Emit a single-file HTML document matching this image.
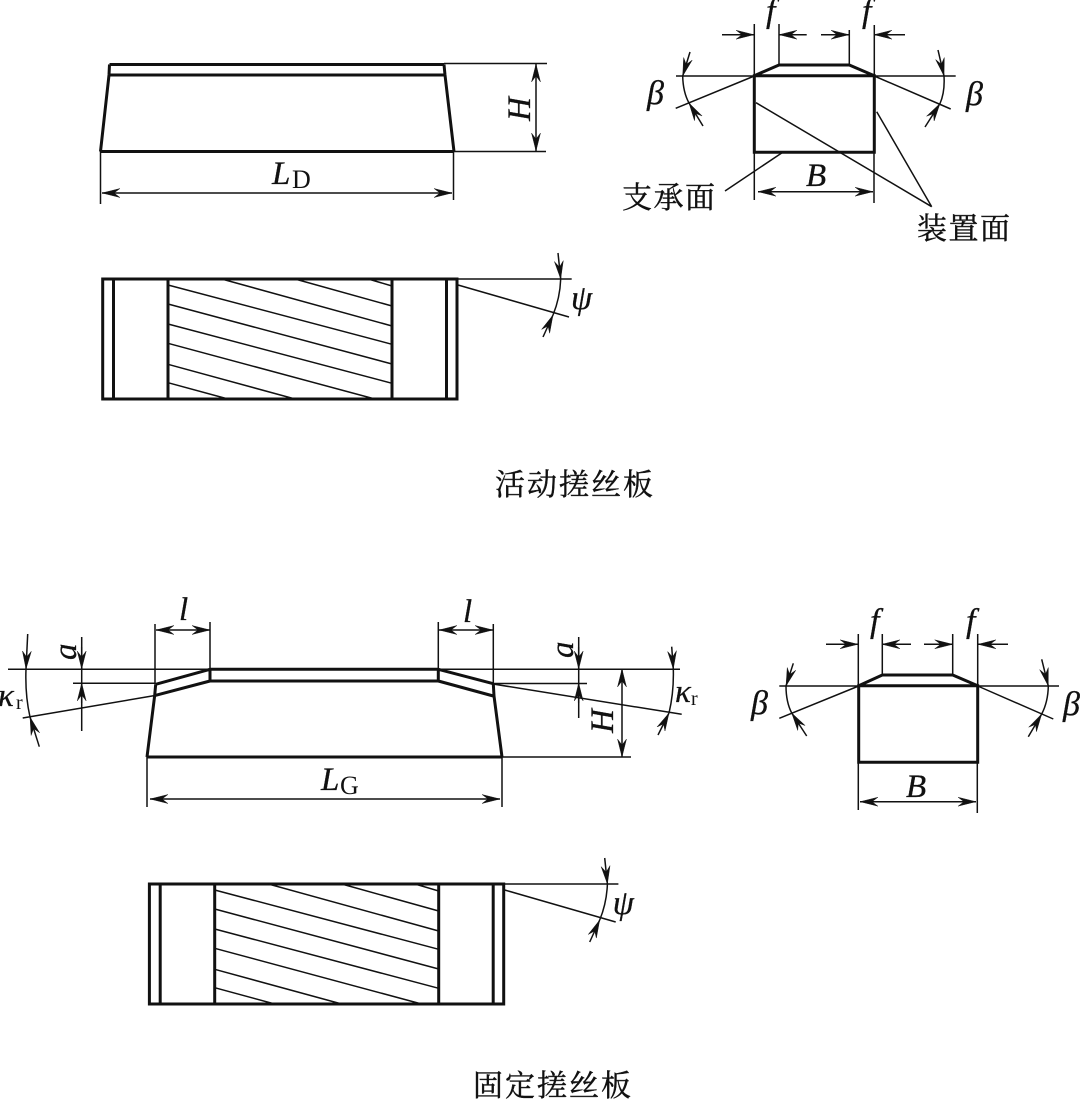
<!DOCTYPE html>
<html>
<head>
<meta charset="utf-8">
<style>
html,body{margin:0;padding:0;background:#fff;width:1082px;height:1100px;overflow:hidden}
svg{display:block}
.k{stroke:#111;stroke-width:3;fill:none;stroke-linejoin:miter}
.t{stroke:#111;stroke-width:1.5;fill:none}
.h{stroke:#111;stroke-width:1.5;fill:none}
.i{font-family:"Liberation Serif",serif;font-style:italic;fill:#111;stroke:#111;stroke-width:.3}
.u{font-family:"Liberation Serif",serif;fill:#111}
.c{font-family:"Liberation Serif","Noto Serif CJK SC",serif;fill:#111;font-size:30px;letter-spacing:1.5px;stroke:#111;stroke-width:.4}
.d{font-family:"Liberation Serif","Noto Serif CJK SC",serif;fill:#111;font-size:30px;letter-spacing:2px;stroke:#111;stroke-width:.4}
</style>
</head>
<body>
<svg width="1082" height="1100" viewBox="0 0 1082 1100" xmlns="http://www.w3.org/2000/svg">
<defs>
<marker id="a" markerUnits="userSpaceOnUse" markerWidth="20" markerHeight="11" refX="18" refY="5.5" orient="auto-start-reverse">
<path d="M18,5.5 L0,1 L6,5.5 L0,10 Z" fill="#111" stroke="#111" stroke-width=".4"/>
</marker>
</defs>

<!-- Top-left front view -->
<path class="k" d="M109.5,64.5 H444 M109.5,75 H445 M100.5,151.5 H454 M109.5,64.5 L109,75 L100.5,151.5 M444,64.5 L445,75 L454,151.5"/>
<path class="t" d="M444,63.5 H547 M454,151.5 H546 M100.5,151 V204 M453.5,151 V200"/>
<line class="t" x1="536" y1="64" x2="536" y2="151" marker-start="url(#a)" marker-end="url(#a)"/>
<line class="t" x1="102" y1="193" x2="452" y2="193" marker-start="url(#a)" marker-end="url(#a)"/>
<text class="i" font-size="33" transform="translate(530,121) rotate(-90)">H</text>
<text class="i" font-size="33" x="272" y="184">L</text>
<text class="u" font-size="26" x="292" y="188">D</text>

<!-- Top-left plan view -->
<g>
<path class="k" d="M102.7,279 H457 V399 H102.7 Z M113.5,279 V399 M168,279 V399 M392,279 V399 M446.5,279 V399"/>
<path class="h" d="M368.3,279 L392,286 M295,279 L392,306 M221.7,279 L392,326 M168,285 L392,344.3 M168,304 L392,364 M168,324 L392,383.3 M168,343.3 L373,398.5 M168,364.3 L295,399 M168,382.7 L228,399"/>
<path class="t" d="M457,279 H571.7 M458,285 L569,317 M560.7,279 Q560,298 553,315"/>
<line class="t" x1="558" y1="253" x2="560.7" y2="279" marker-end="url(#a)"/>
<line class="t" x1="543" y1="337" x2="553" y2="315" marker-end="url(#a)"/>
<text class="i" font-size="34" x="571" y="309">ψ</text>
</g>

<!-- Top-right view -->
<path class="k" d="M754.3,75.7 H874.3 V152.3 H754.3 Z M754.3,75.7 L779,65 H849.3 L874.3,75.7"/>
<path class="t" d="M676,76 H955.7 M754.3,76 L675.7,108.3 M874.3,76 L950.7,109 M754.3,24 V76 M779,24 V65 M849.3,30 V65 M874.3,25 V76 M754.3,152 V200 M874,152 V203 M725,191 L781.7,153 M756,102.7 L931.7,206.7 M876.7,111.7 L931.7,206.7 M682.7,76 Q683,92 689,103 M944,76 Q945,92 940,103.5"/>
<line class="t" x1="722" y1="34.7" x2="754" y2="34.7" marker-end="url(#a)"/>
<line class="t" x1="806.7" y1="34.7" x2="779" y2="34.7" marker-end="url(#a)"/>
<line class="t" x1="821" y1="34.7" x2="849" y2="34.7" marker-end="url(#a)"/>
<line class="t" x1="905" y1="34.7" x2="874" y2="34.7" marker-end="url(#a)"/>
<line class="t" x1="690" y1="52" x2="682.7" y2="76" marker-end="url(#a)"/>
<line class="t" x1="703" y1="126" x2="689" y2="103" marker-end="url(#a)"/>
<line class="t" x1="938" y1="50" x2="944" y2="76" marker-end="url(#a)"/>
<line class="t" x1="925" y1="127" x2="940" y2="103.5" marker-end="url(#a)"/>
<line class="t" x1="758" y1="191.7" x2="873" y2="191.7" marker-start="url(#a)" marker-end="url(#a)"/>
<text class="i" font-size="34" x="766" y="22">f</text>
<text class="i" font-size="34" x="862" y="22">f</text>
<text class="i" font-size="34" x="647" y="104">β</text>
<text class="i" font-size="34" x="966" y="105">β</text>
<text class="i" font-size="33" x="806" y="186">B</text>
<text class="c" x="622" y="208">支承面</text>
<text class="c" x="917" y="239">装置面</text>

<text class="d" x="495" y="495">活动搓丝板</text>

<!-- Bottom-left front view -->
<path class="k" d="M210,669.3 H438.3 M210,681 H438.3 M147,757 H502 M210,669.3 V681 M438.3,669.3 V681 M210,669.3 L155.7,684.3 M210,681 L155.7,695.3 M155.7,684.3 L154.7,695.3 L147,757 M438.3,669.3 L493.3,683.7 M438.3,681 L493.3,696 M493.3,683.7 L494,696 L502,757"/>
<path class="t" d="M8,669.3 H210 M73,683.3 H155 M22.7,718 L155,695.5 M155,624 V684 M210,622 V669 M438.3,622 V669 M493.3,624 V684 M81.7,637 V731 M438,669.3 H680 M493,683.5 H587 M493,684 L681.7,714.3 M578.7,637 V718 M502,757 H631 M147,757 V807 M502,757 V807 M26,669 Q25,695 30,717 M673.3,669 Q674,692 669,713"/>
<line class="t" x1="156" y1="630" x2="210" y2="630" marker-start="url(#a)" marker-end="url(#a)"/>
<line class="t" x1="439" y1="630" x2="493" y2="630" marker-start="url(#a)" marker-end="url(#a)"/>
<line class="t" x1="81.7" y1="647" x2="81.7" y2="669" marker-end="url(#a)"/>
<line class="t" x1="81.7" y1="703" x2="81.7" y2="683" marker-end="url(#a)"/>
<line class="t" x1="578.7" y1="647" x2="578.7" y2="669" marker-end="url(#a)"/>
<line class="t" x1="578.7" y1="703" x2="578.7" y2="683" marker-end="url(#a)"/>
<line class="t" x1="27.7" y1="634" x2="26" y2="669" marker-end="url(#a)"/>
<line class="t" x1="39.3" y1="746.7" x2="30" y2="717" marker-end="url(#a)"/>
<line class="t" x1="671.7" y1="646.7" x2="673.3" y2="669" marker-end="url(#a)"/>
<line class="t" x1="658" y1="735" x2="669" y2="713" marker-end="url(#a)"/>
<line class="t" x1="622" y1="669" x2="622" y2="757" marker-start="url(#a)" marker-end="url(#a)"/>
<line class="t" x1="150" y1="799" x2="500" y2="799" marker-start="url(#a)" marker-end="url(#a)"/>
<text class="i" font-size="33" x="179" y="620">l</text>
<text class="i" font-size="33" x="463" y="622">l</text>
<text class="i" font-size="33" transform="translate(76,660) rotate(-90)">a</text>
<text class="i" font-size="33" transform="translate(573,658) rotate(-90)">a</text>
<text class="i" font-size="33" transform="translate(613,733) rotate(-90)">H</text>
<text class="i" font-size="33" x="-2" y="706">κ</text>
<text class="u" font-size="20" x="16" y="709">r</text>
<text class="i" font-size="33" x="675" y="702">κ</text>
<text class="u" font-size="20" x="691" y="705">r</text>
<text class="i" font-size="33" x="321" y="790">L</text>
<text class="u" font-size="26" x="340" y="794">G</text>

<!-- Bottom-right view -->
<path class="k" d="M858.7,685.7 H977.7 V762.3 H858.7 Z M858.7,685.7 L882.3,675 H952.7 L977.7,685.7"/>
<path class="t" d="M779.3,686 H1059 M858.7,686 L779.3,718.3 M977.7,686 L1053.3,719 M858.3,634 V686 M882.3,634 V675 M952.7,634 V675 M977.7,634 V686 M858.3,762 V810 M977.3,762 V813 M786,686 Q786,702 791.7,713 M1048.3,686 Q1048,702 1041.7,714"/>
<line class="t" x1="826" y1="644.3" x2="858" y2="644.3" marker-end="url(#a)"/>
<line class="t" x1="911" y1="644.3" x2="882" y2="644.3" marker-end="url(#a)"/>
<line class="t" x1="924" y1="644.3" x2="952.7" y2="644.3" marker-end="url(#a)"/>
<line class="t" x1="1008" y1="644.3" x2="978" y2="644.3" marker-end="url(#a)"/>
<line class="t" x1="793.3" y1="663.3" x2="786" y2="686" marker-end="url(#a)"/>
<line class="t" x1="806.7" y1="736" x2="791.7" y2="713" marker-end="url(#a)"/>
<line class="t" x1="1041.7" y1="659.3" x2="1048.3" y2="686" marker-end="url(#a)"/>
<line class="t" x1="1028.3" y1="736.7" x2="1041.7" y2="714" marker-end="url(#a)"/>
<line class="t" x1="860" y1="801.7" x2="976" y2="801.7" marker-start="url(#a)" marker-end="url(#a)"/>
<text class="i" font-size="34" x="870" y="632">f</text>
<text class="i" font-size="34" x="966" y="632">f</text>
<text class="i" font-size="34" x="751" y="714">β</text>
<text class="i" font-size="34" x="1063" y="715">β</text>
<text class="i" font-size="33" x="906" y="797">B</text>

<!-- Bottom plan view -->
<g transform="translate(46.7,605)">
<path class="k" d="M102.7,279 H457 V399 H102.7 Z M113.5,279 V399 M168,279 V399 M392,279 V399 M446.5,279 V399"/>
<path class="h" d="M368.3,279 L392,286 M295,279 L392,306 M221.7,279 L392,326 M168,285 L392,344.3 M168,304 L392,364 M168,324 L392,383.3 M168,343.3 L373,398.5 M168,364.3 L295,399 M168,382.7 L228,399"/>
<path class="t" d="M457,279 H571.7 M458,285 L569,317 M560.7,279 Q560,298 553,315"/>
<line class="t" x1="558" y1="253" x2="560.7" y2="279" marker-end="url(#a)"/>
<line class="t" x1="543" y1="337" x2="553" y2="315" marker-end="url(#a)"/>
<text class="i" font-size="34" x="566" y="309">ψ</text>
</g>

<text class="d" x="473" y="1096">固定搓丝板</text>
</svg>
</body>
</html>
